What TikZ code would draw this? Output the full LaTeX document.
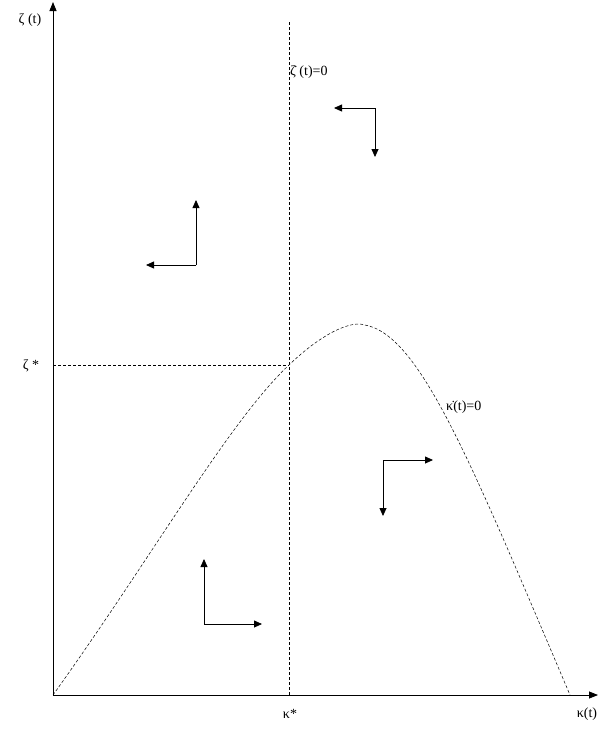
\documentclass[tikz,border=0pt]{standalone}
\usepackage{fontspec}
\setmainfont{Liberation Serif}
\usetikzlibrary{arrows.meta}
\begin{document}
\begin{tikzpicture}[x=1pt,y=-1pt,
  axis/.style={line width=0.8pt,-{Triangle[length=9pt,width=7pt]}},
  dir/.style={line width=0.8pt,-{Triangle[length=8pt,width=7pt]}},
  guide/.style={line width=0.5pt,dash pattern=on 3pt off 2pt},
  lbl/.style={font=\fontsize{14}{16}\selectfont,inner sep=1pt}]
\useasboundingbox (0,0) rectangle (600,753);
\coordinate (O) at (53,695);
\coordinate (ytop) at (53,2);
\coordinate (xend) at (598,695);
\draw[axis] (O) -- (ytop);
\draw[axis] (O) -- (xend);
\node[lbl] (zt) at (30,20) {ζ (t)};
\node[lbl] (zs) at (31,366) {ζ *};
\node[lbl] (ks) at (290,714) {κ*};
\node[lbl] (kt) at (587,714) {κ(t)};
\coordinate (vtop) at (289,22);
\coordinate (vbot) at (289,695);
\coordinate (E) at (289,365);
\coordinate (hl) at (53,365);
\draw[guide] (vtop) -- (vbot);
\draw[guide] (hl) -- (E);
\node[lbl,anchor=west] (zdot) at (289,72) {ζ̇ (t)=0};
\node[lbl,anchor=west] (kdot) at (445,407) {κ̇(t)=0};
\draw[guide] (O) .. controls (150,560) and (230,420) .. (E)
  .. controls (320,335) and (350,320) .. (365,325)
  .. controls (420,335) and (470,460) .. (570,695);
% arrows
\coordinate (c1) at (375,108);
\draw[dir] (c1) -- (334,108);
\draw[dir] (c1) -- (375,157);
\coordinate (c2) at (196,265);
\draw[dir] (c2) -- (196,200);
\draw[dir] (c2) -- (146,265);
\coordinate (c3) at (383,460);
\draw[dir] (c3) -- (433,460);
\draw[dir] (c3) -- (383,516);
\coordinate (c4) at (204,624);
\draw[dir] (c4) -- (204,559);
\draw[dir] (c4) -- (262,624);
\end{tikzpicture}
\end{document}
